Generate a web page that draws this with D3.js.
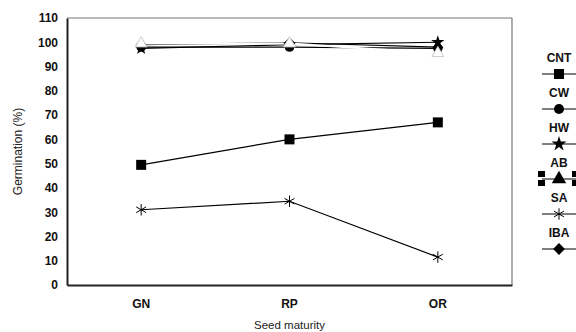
<!DOCTYPE html>
<html>
<head>
<meta charset="utf-8">
<script src="https://d3js.org/d3.v7.min.js"></script>
<style>
    body { margin: 0; background: #fff; }
    text { font-family: "Liberation Sans", Arial, sans-serif; }
</style>
</head>
<body>
<svg id="chart" width="576" height="332"></svg>
<script>
    // categories and series (germination %)
    const stages = ["GN", "RP", "OR"];
    const yTicks = [0, 10, 20, 30, 40, 50, 60, 70, 80, 90, 100, 110];
    const seriesNames = ["CNT", "CW", "HW", "AB", "SA", "IBA"];
    const cnt = [49.5, 60, 67];
    const cw = [98, 98, 97.5];
    const hw = [97.5, 99, 100];
    const ab = [99.5, 99.5, 95.5];
    const sa = [31, 34.5, 11.5];
    const iba = [99, 99.8, 98];

    const margin = {top: 18, right: 64, bottom: 47, left: 67};
    const width = 576 - margin.left - margin.right,
        height = 332 - margin.top - margin.bottom;

    const svg = d3.select("#chart");
    const g = svg.append("g")
        .attr("transform", "translate(" + margin.left + "," + margin.top + ")");

    const x = d3.scaleBand().domain(stages).range([0, width]);
    const y = d3.scaleLinear().domain([0, 110]).range([height, 0]);

    // frame: top and right thin grey
    g.append("line").attr("x1", 0).attr("x2", width).attr("y1", 0).attr("y2", 0)
        .attr("stroke", "#777").attr("stroke-width", 1.2);
    g.append("line").attr("x1", width).attr("x2", width).attr("y1", 0).attr("y2", height)
        .attr("stroke", "#777").attr("stroke-width", 1.2);

    // axes
    const yAxis = g.append("g")
        .call(d3.axisLeft(y).tickValues(yTicks).tickSize(0).tickPadding(9));
    yAxis.select(".domain").attr("stroke", "#222").attr("stroke-width", 2);
    yAxis.selectAll("text").attr("font-size", 12).attr("font-weight", "bold")
        .attr("fill", "#111").attr("font-family", "Liberation Sans, Arial, sans-serif");

    const xAxis = g.append("g")
        .attr("transform", "translate(0," + height + ")")
        .call(d3.axisBottom(x).tickSize(0).tickPadding(14));
    xAxis.select(".domain").attr("stroke", "#222").attr("stroke-width", 2);
    xAxis.selectAll("text").attr("font-size", 12).attr("font-weight", "bold")
        .attr("fill", "#111").attr("font-family", "Liberation Sans, Arial, sans-serif");

    // axis titles
    svg.append("text").attr("x", margin.left + width / 2).attr("y", 329)
        .attr("text-anchor", "middle").attr("font-size", 11.5).attr("fill", "#222")
        .text("Seed maturity");
    svg.append("text")
        .attr("transform", "translate(22," + (margin.top + height / 2) + ") rotate(-90)")
        .attr("text-anchor", "middle").attr("font-size", 12).attr("fill", "#222")
        .text("Germination (%)");

    // marker shapes
    const diamond = {
        draw: function(ctx, size) {
            const r = Math.sqrt(size / 2);
            ctx.moveTo(0, -r); ctx.lineTo(r, 0); ctx.lineTo(0, r); ctx.lineTo(-r, 0); ctx.closePath();
        }
    };
    const asterisk = {
        draw: function(ctx, size) {
            const r = Math.sqrt(size) / 2;
            for (let k = 0; k < 3; k++) {
                const a = Math.PI / 2 + k * Math.PI / 3;
                ctx.moveTo(Math.cos(a) * r, Math.sin(a) * r);
                ctx.lineTo(-Math.cos(a) * r, -Math.sin(a) * r);
            }
        }
    };

    const series = [
        {name: "CNT", values: cnt, shape: d3.symbolSquare, size: 100, fill: "#000", line: "#000"},
        {name: "SA", values: sa, shape: asterisk, size: 130, fill: "none", line: "#000"},
        {name: "CW", values: cw, shape: d3.symbolCircle, size: 70, fill: "#000", line: "#000"},
        {name: "HW", values: hw, shape: d3.symbolStar, size: 55, fill: "#000", line: "#000"},
        {name: "IBA", values: iba, shape: diamond, size: 60, fill: "#000", line: "#000"},
        {name: "AB", values: ab, shape: d3.symbolTriangle, size: 60, fill: "#fff", line: "#fff"}
    ];

    const line = d3.line()
        .x(function(d, i) { return x(stages[i]) + x.bandwidth() / 2; })
        .y(function(d) { return y(d); });

    series.forEach(function(s) {
        g.append("path").datum(s.values)
            .attr("d", line)
            .attr("fill", "none")
            .attr("stroke", s.line)
            .attr("stroke-width", s.name == "AB" ? 2 : 1.2);
    });
    series.forEach(function(s) {
        g.selectAll(null).data(s.values).enter().append("path")
            .attr("transform", function(d, i) {
                return "translate(" + (x(stages[i]) + x.bandwidth() / 2) + "," + y(d) + ")";
            })
            .attr("d", d3.symbol().type(s.shape).size(s.size))
            .attr("fill", s.fill)
            .attr("stroke", s.fill == "none" ? "#000" : (s.name == "AB" ? "#ccc" : "none"))
            .attr("stroke-width", 1);
    });

    // legend
    const legendShapes = {
        CNT: [d3.symbolSquare, 100], CW: [d3.symbolCircle, 80], HW: [d3.symbolStar, 70],
        AB: [d3.symbolTriangle, 90], SA: [asterisk, 130], IBA: [diamond, 70]
    };
    const lx = 559;
    const legend = svg.append("g");
    seriesNames.forEach(function(name, i) {
        const ly = 62 + i * 35;
        legend.append("text").attr("x", lx).attr("y", ly)
            .attr("text-anchor", "middle").attr("font-size", 12).attr("font-weight", "bold")
            .attr("fill", "#111").text(name);
        legend.append("line").attr("x1", lx - 17).attr("x2", lx + 17)
            .attr("y1", ly + 12).attr("y2", ly + 12).attr("stroke", "#000").attr("stroke-width", 1);
        legend.append("path")
            .attr("transform", "translate(" + lx + "," + (ly + 12) + ")")
            .attr("d", d3.symbol().type(legendShapes[name][0]).size(legendShapes[name][1]))
            .attr("fill", name == "SA" ? "none" : "#000")
            .attr("stroke", name == "SA" ? "#000" : "none");
        if (name == "AB") {
            // selection handles around the AB legend key
            [[538, ly + 4], [538, ly + 13], [572, ly + 4], [572, ly + 13]].forEach(function(p) {
                legend.append("rect").attr("x", p[0]).attr("y", p[1])
                    .attr("width", 7).attr("height", 6).attr("fill", "#000");
            });
        }
    });
</script>
</body>
</html>
